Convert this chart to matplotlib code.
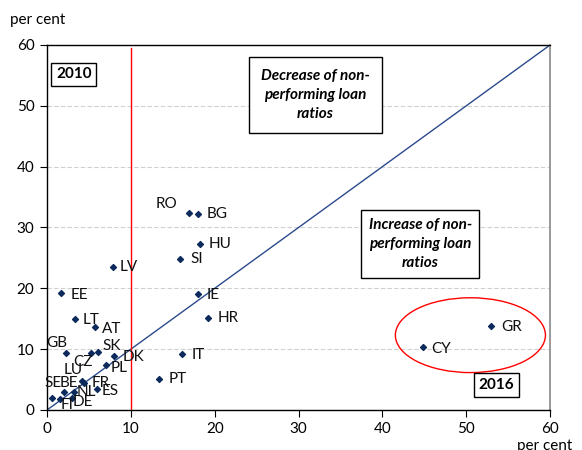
import numpy as np
import matplotlib.pyplot as plt
from matplotlib.patches import Ellipse

plt.rcParams['font.family'] = ['Lato', 'DejaVu Sans']

# NPL ratios: x = 2010, y = 2016 (per cent)
countries = ["RO", "BG", "HU", "SI", "IE", "HR", "LV", "EE", "LT", "AT",
             "GB", "CZ", "SK", "DK", "PL", "IT", "PT", "LU", "FR", "ES",
             "SE", "BE", "NL", "FI", "DE", "CY", "GR"]
npl_2010 = [16.9, 18.0, 18.2, 15.9, 18.0, 19.2, 7.9, 1.7, 3.3, 5.7,
            2.3, 5.3, 6.1, 8.0, 7.0, 16.1, 13.4, 4.2, 4.4, 6.0,
            0.6, 2.0, 3.2, 1.6, 3.0, 44.8, 53.0]
npl_2016 = [32.4, 32.3, 27.3, 24.9, 19.1, 15.1, 23.5, 19.2, 15.0, 13.6,
            9.4, 9.3, 9.6, 8.9, 7.4, 9.2, 5.1, 4.7, 4.5, 3.4,
            1.9, 2.9, 3.0, 1.8, 2.0, 10.3, 13.8]

# label centre offsets in points
offsets = {"RO": (-16, 6.5), "BG": (14, 0), "HU": (15, 0), "SI": (12, 0),
           "IE": (11, -1), "HR": (14.5, 0), "LV": (11.5, 0), "EE": (13, -1),
           "LT": (12, -1), "AT": (12, -1.5), "GB": (-7, 7), "CZ": (-6, -6),
           "SK": (10, 4), "DK": (14, -1), "PL": (10, -2), "IT": (12, -1),
           "PT": (13.5, 0), "LU": (-6.5, 8), "FR": (12, 0), "ES": (9, -1),
           "SE": (1, 11), "BE": (4, 7), "NL": (9, 0), "FI": (5, -4),
           "DE": (8, -3), "CY": (13.5, -1), "GR": (14.5, -1)}

fig = plt.figure(figsize=(5.82, 4.5), dpi=100)
ax = fig.add_axes([0.0808, 0.0889, 0.8643, 0.8111])

ax.set_xlim(0, 60)
ax.set_ylim(0, 60)
ax.set_xticks(np.arange(0, 61, 10))
ax.set_yticks(np.arange(0, 61, 10))
ax.tick_params(labelsize=11, length=5, width=0.8, color='black', pad=4)
ax.grid(axis='y', linestyle=(0, (4, 2)), color='#d0d0d0', linewidth=0.8)
ax.set_axisbelow(True)
for side in ['left', 'bottom', 'top']:
    ax.spines[side].set_color('black')
    ax.spines[side].set_linewidth(1)
ax.spines['right'].set_color('#888888')
ax.spines['right'].set_linewidth(1.2)

ax.plot([0, 60], [0, 60], color='#2b4a8c', linewidth=1, zorder=2)
ax.plot([10, 10], [0, 59.5], color='red', linewidth=1, zorder=2)

ax.scatter(npl_2010, npl_2016, marker='D', s=9, color='#0d2a5c', zorder=3)
for c, x, y in zip(countries, npl_2010, npl_2016):
    dx, dy = offsets[c]
    ax.annotate(c, (x, y), xytext=(dx, dy), textcoords='offset points',
                ha='center', va='center', fontsize=11, color='#111111', zorder=4)

ax.add_patch(Ellipse((50.5, 12.3), 17.9, 12.3, fill=False, edgecolor='red',
                     linewidth=1, zorder=2))

box = dict(boxstyle='square,pad=0.3', facecolor='white', edgecolor='black', linewidth=1)
ax.text(3.2, 55.2, "2010", fontsize=11, fontweight='bold', ha='center', va='center', bbox=box)
ax.text(53.6, 4.1, "2016", fontsize=11, fontweight='bold', ha='center', va='center', bbox=box)

box2 = dict(boxstyle='square,pad=0.8', facecolor='white', edgecolor='black', linewidth=1)
ax.text(32.0, 51.8, "Decrease of non-\nperforming loan\nratios", fontsize=11,
        fontweight='bold', fontstyle='italic', ha='center', va='center',
        linespacing=1.45, bbox=box2)
ax.text(44.5, 27.3, "Increase of non-\nperforming loan\nratios", fontsize=11,
        fontweight='bold', fontstyle='italic', ha='center', va='center',
        linespacing=1.45, bbox=dict(boxstyle='square,pad=0.5', facecolor='white',
                                    edgecolor='black', linewidth=1))

fig.text(10 / 582, 1 - 20 / 450, "per cent", fontsize=11, ha='left', va='center')
fig.text(545 / 582, 1 - 446 / 450, "per cent", fontsize=11, ha='center', va='center')

fig.savefig("out.png", dpi=100)
